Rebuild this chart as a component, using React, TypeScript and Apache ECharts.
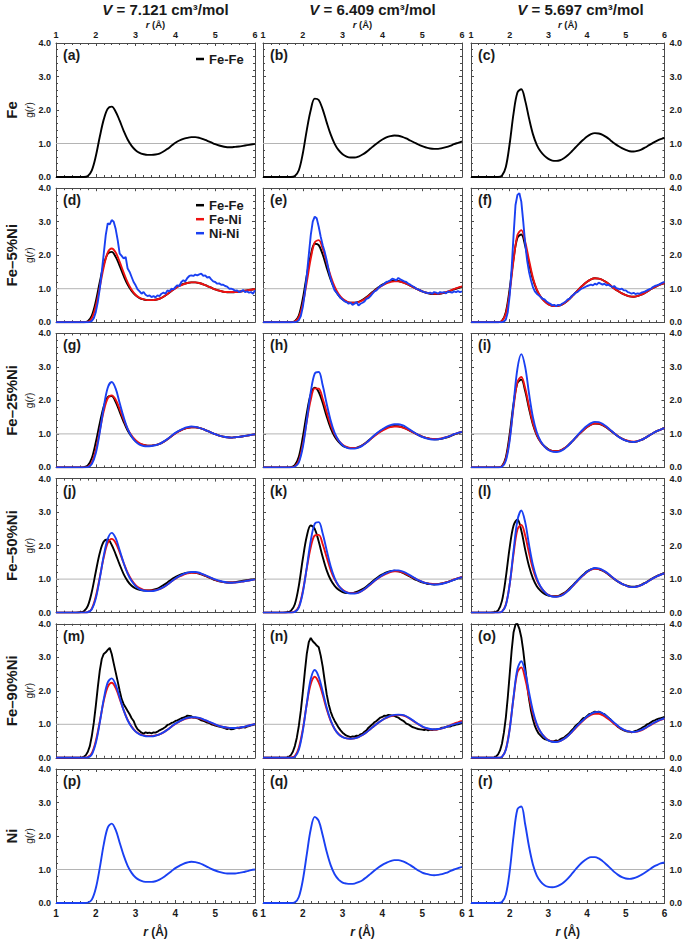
import React, { useEffect, useRef } from "react";
import * as echarts from "echarts";

const FONT = '"Liberation Sans", Arial, Helvetica, sans-serif';
const R_MIN = 1;
const R_MAX = 6;
const G_MIN = 0;
const G_MAX = 4;
const UNITY = 1;

const VOLUMES = ["7.121", "6.409", "5.697"];
const COMPOSITIONS = ["Fe", "Fe\u20135%Ni", "Fe\u201325%Ni", "Fe\u201350%Ni", "Fe\u201390%Ni", "Ni"];
const LETTERS = ["a", "b", "c", "d", "e", "f", "g", "h", "i", "j", "k", "l", "m", "n", "o", "p", "q", "r"];
const PAIR_COLORS: Record<string, string> = { "Fe-Fe": "#000000", "Fe-Ni": "#ee1111", "Ni-Ni": "#1a40f2" };

// ---------- g(r) values, r = 1.0 ... 6.0 (step 0.1 for 51 values, 0.05 for 101 values) ----------
// Pure Fe
const FeFe_a = [
  0, 0, 0, 0, 0, 0, 0, 0, 0.03, 0.2,
  0.62, 1.2, 1.72, 2.04, 2.1, 1.95, 1.68, 1.38, 1.12, 0.93,
  0.8, 0.72, 0.68, 0.66, 0.66, 0.67, 0.7, 0.76, 0.84, 0.93,
  1.02, 1.09, 1.14, 1.17, 1.19, 1.19, 1.17, 1.13, 1.08, 1.03,
  0.98, 0.94, 0.91, 0.89, 0.89, 0.9, 0.91, 0.93, 0.95, 0.97,
  0.99,
];
const FeFe_b = [
  0, 0, 0, 0, 0, 0, 0, 0, 0.03, 0.2,
  0.7, 1.4, 2.0, 2.34, 2.3, 2.02, 1.63, 1.27, 0.99, 0.8,
  0.68, 0.61, 0.58, 0.58, 0.61, 0.67, 0.75, 0.85, 0.95, 1.04,
  1.12, 1.18, 1.22, 1.24, 1.23, 1.2, 1.15, 1.09, 1.03, 0.97,
  0.92, 0.88, 0.85, 0.84, 0.84, 0.86, 0.89, 0.93, 0.98, 1.02,
  1.06,
];
const FeFe_c = [
  0, 0, 0, 0, 0, 0, 0, 0, 0.04, 0.3,
  1.0, 1.9, 2.52, 2.62, 2.28, 1.75, 1.28, 0.96, 0.76, 0.63,
  0.54, 0.49, 0.48, 0.5, 0.56, 0.65, 0.76, 0.88, 1.0, 1.11,
  1.21, 1.28, 1.31, 1.3, 1.26, 1.19, 1.1, 1.01, 0.93, 0.86,
  0.81, 0.77, 0.76, 0.78, 0.82, 0.88, 0.95, 1.02, 1.08, 1.13,
  1.17,
];

// Fe-5%Ni
const FeFe_d = FeFe_a;
const FeNi_d = [
  0, 0, 0, 0, 0, 0, 0, 0, 0.01, 0.12,
  0.48, 1.05, 1.65, 2.08, 2.2, 2.08, 1.8, 1.48, 1.19, 0.97,
  0.82, 0.73, 0.68, 0.66, 0.66, 0.67, 0.7, 0.76, 0.84, 0.93,
  1.01, 1.08, 1.13, 1.17, 1.19, 1.19, 1.17, 1.13, 1.08, 1.03,
  0.98, 0.94, 0.91, 0.9, 0.9, 0.9, 0.91, 0.93, 0.95, 0.97,
  0.99,
];
const NiNi_d = [
  0, 0, 0, 0, 0, 0, 0, 0, 0, 0, 0, 0, 0, 0, 0, 0, 0, 0.01, 0.04, 0.12,
  0.3, 0.6, 1.0, 1.5, 2.05, 2.6, 2.95, 2.92, 3.05, 3.0, 2.78, 2.45, 2.05, 1.98, 1.9, 1.95, 1.6, 1.5, 1.35, 1.2,
  1.1, 0.98, 0.92, 0.85, 0.9, 0.82, 0.78, 0.8, 0.75, 0.78, 0.74, 0.8, 0.78, 0.85, 0.88, 0.85, 0.95, 0.92, 1.0, 0.98,
  1.05, 1.1, 1.08, 1.2, 1.25, 1.22, 1.32, 1.38, 1.4, 1.38, 1.42, 1.4, 1.43, 1.45, 1.38, 1.4, 1.33, 1.35, 1.28, 1.22,
  1.2, 1.15, 1.16, 1.12, 1.12, 1.08, 1.06, 1.0, 1.0, 0.98, 0.94, 0.95, 0.9, 0.92, 0.96, 0.9, 0.92, 0.88, 0.9, 0.85,
  0.95,
];
const FeFe_e = FeFe_b;
const FeNi_e = [
  0, 0, 0, 0, 0, 0, 0, 0, 0.02, 0.15,
  0.55, 1.2, 1.9, 2.38, 2.45, 2.2, 1.78, 1.38, 1.06, 0.84,
  0.7, 0.62, 0.58, 0.58, 0.6, 0.65, 0.73, 0.83, 0.93, 1.02,
  1.1, 1.16, 1.2, 1.22, 1.22, 1.19, 1.15, 1.09, 1.03, 0.97,
  0.92, 0.88, 0.86, 0.85, 0.85, 0.87, 0.9, 0.94, 0.99, 1.03,
  1.07,
];
const NiNi_e = [
  0, 0, 0, 0, 0, 0, 0, 0, 0, 0, 0, 0, 0, 0, 0, 0, 0, 0.02, 0.06, 0.18,
  0.45, 0.85, 1.4, 2.0, 2.6, 3.0, 3.15, 3.1, 2.85, 2.55, 2.3, 2.1, 1.85, 1.55, 1.3, 1.12, 0.95, 0.88, 0.8, 0.72,
  0.68, 0.62, 0.6, 0.55, 0.58, 0.52, 0.55, 0.6, 0.5, 0.55, 0.58, 0.62, 0.7, 0.72, 0.78, 0.85, 0.92, 0.95, 1.02, 1.08,
  1.1, 1.15, 1.2, 1.22, 1.25, 1.3, 1.28, 1.25, 1.32, 1.28, 1.25, 1.22, 1.2, 1.15, 1.12, 1.08, 1.05, 1.0, 0.98, 0.95,
  0.92, 0.9, 0.88, 0.86, 0.88, 0.85, 0.9, 0.88, 0.85, 0.9, 0.88, 0.9, 0.86, 0.92, 0.9, 0.88, 0.92, 0.9, 0.93, 0.9,
  0.92,
];
const FeFe_f = FeFe_c;
const FeNi_f = [
  0, 0, 0, 0, 0, 0, 0, 0, 0.03, 0.25,
  0.9, 1.85, 2.6, 2.75, 2.4, 1.85, 1.33, 0.98, 0.76, 0.62,
  0.53, 0.49, 0.48, 0.5, 0.56, 0.65, 0.76, 0.88, 1.0, 1.11,
  1.21, 1.28, 1.31, 1.3, 1.26, 1.19, 1.1, 1.01, 0.93, 0.86,
  0.81, 0.77, 0.76, 0.78, 0.82, 0.88, 0.95, 1.02, 1.08, 1.13,
  1.17,
];
const NiNi_f = [
  0, 0, 0, 0, 0, 0, 0, 0, 0, 0, 0, 0, 0, 0, 0, 0, 0, 0.02, 0.08, 0.3,
  0.8, 1.6, 2.6, 3.5, 3.8, 3.85, 3.6, 3.0, 2.35, 1.85, 1.5, 1.25, 1.05, 0.92, 0.85, 0.8, 0.75, 0.7, 0.68, 0.62,
  0.58, 0.55, 0.5, 0.52, 0.48, 0.52, 0.5, 0.55, 0.58, 0.62, 0.68, 0.7, 0.78, 0.82, 0.88, 0.9, 0.95, 1.0, 1.02, 1.05,
  1.08, 1.1, 1.12, 1.1, 1.15, 1.12, 1.18, 1.15, 1.12, 1.15, 1.1, 1.12, 1.08, 1.05, 1.08, 1.02, 1.0, 0.98, 1.0, 0.95,
  0.95, 0.9, 0.88, 0.85, 0.88, 0.84, 0.86, 0.85, 0.88, 0.9, 0.92, 0.95, 0.98, 1.0, 1.05, 1.08, 1.1, 1.12, 1.15, 1.18,
  1.2,
];

// Fe-25%Ni
const FeFe_g = [
  0, 0, 0, 0, 0, 0, 0, 0.01, 0.06, 0.28,
  0.75, 1.32, 1.82, 2.1, 2.13, 1.95, 1.66, 1.36, 1.1, 0.92,
  0.79, 0.71, 0.67, 0.65, 0.65, 0.67, 0.7, 0.76, 0.84, 0.93,
  1.02, 1.09, 1.14, 1.18, 1.2, 1.2, 1.18, 1.14, 1.09, 1.04,
  0.99, 0.95, 0.92, 0.9, 0.89, 0.9, 0.91, 0.93, 0.95, 0.97,
  0.99,
];
const FeNi_g = [
  0, 0, 0, 0, 0, 0, 0, 0, 0.02, 0.15,
  0.52, 1.1, 1.68, 2.06, 2.15, 2.02, 1.74, 1.43, 1.15, 0.95,
  0.81, 0.72, 0.67, 0.65, 0.65, 0.67, 0.7, 0.76, 0.84, 0.93,
  1.01, 1.08, 1.14, 1.18, 1.2, 1.2, 1.18, 1.14, 1.09, 1.04,
  0.99, 0.95, 0.92, 0.9, 0.89, 0.9, 0.91, 0.93, 0.95, 0.97,
  0.99,
];
const NiNi_g = [
  0, 0, 0, 0, 0, 0, 0, 0, 0.01, 0.1,
  0.42, 1.05, 1.8, 2.38, 2.55, 2.35, 1.92, 1.5, 1.15, 0.92,
  0.77, 0.68, 0.64, 0.63, 0.64, 0.66, 0.7, 0.77, 0.85, 0.94,
  1.03, 1.1, 1.16, 1.2, 1.22, 1.21, 1.18, 1.14, 1.09, 1.04,
  0.99, 0.95, 0.92, 0.9, 0.89, 0.9, 0.91, 0.93, 0.95, 0.97,
  0.99,
];
const FeFe_h = [
  0, 0, 0, 0, 0, 0, 0, 0.01, 0.07, 0.32,
  0.9, 1.62, 2.18, 2.38, 2.25, 1.92, 1.52, 1.17, 0.92, 0.76,
  0.65, 0.6, 0.58, 0.58, 0.61, 0.67, 0.75, 0.85, 0.95, 1.04,
  1.12, 1.18, 1.22, 1.24, 1.23, 1.2, 1.15, 1.09, 1.03, 0.97,
  0.92, 0.88, 0.85, 0.84, 0.84, 0.86, 0.89, 0.93, 0.98, 1.02,
  1.06,
];
const FeNi_h = [
  0, 0, 0, 0, 0, 0, 0, 0, 0.03, 0.2,
  0.68, 1.38, 2.02, 2.36, 2.35, 2.05, 1.65, 1.27, 0.99, 0.8,
  0.68, 0.61, 0.58, 0.58, 0.6, 0.66, 0.74, 0.84, 0.94, 1.03,
  1.1, 1.16, 1.2, 1.22, 1.22, 1.19, 1.15, 1.09, 1.03, 0.97,
  0.92, 0.88, 0.86, 0.85, 0.85, 0.87, 0.9, 0.94, 0.99, 1.03,
  1.07,
];
const NiNi_h = [
  0, 0, 0, 0, 0, 0, 0, 0, 0.02, 0.15,
  0.6, 1.4, 2.25, 2.8, 2.85, 2.45, 1.9, 1.4, 1.03, 0.8,
  0.66, 0.59, 0.56, 0.56, 0.59, 0.65, 0.74, 0.85, 0.96, 1.06,
  1.14, 1.21, 1.26, 1.29, 1.29, 1.26, 1.2, 1.12, 1.04, 0.97,
  0.91, 0.87, 0.84, 0.83, 0.84, 0.86, 0.9, 0.94, 0.99, 1.03,
  1.06,
];
const FeFe_i = FeFe_c;
const FeNi_i = [
  0, 0, 0, 0, 0, 0, 0, 0, 0.03, 0.25,
  0.88, 1.8, 2.55, 2.7, 2.36, 1.82, 1.32, 0.98, 0.76, 0.62,
  0.53, 0.49, 0.48, 0.5, 0.56, 0.65, 0.76, 0.88, 1.0, 1.11,
  1.21, 1.28, 1.31, 1.31, 1.27, 1.2, 1.11, 1.02, 0.93, 0.86,
  0.81, 0.78, 0.77, 0.78, 0.82, 0.88, 0.95, 1.02, 1.08, 1.13,
  1.17,
];
const NiNi_i = [
  0, 0, 0, 0, 0, 0, 0, 0, 0.02, 0.2,
  0.8, 1.9, 2.95, 3.38, 3.0, 2.2, 1.5, 1.05, 0.78, 0.62,
  0.52, 0.47, 0.46, 0.48, 0.54, 0.64, 0.76, 0.89, 1.02, 1.14,
  1.24, 1.32, 1.36, 1.35, 1.3, 1.22, 1.12, 1.02, 0.92, 0.85,
  0.8, 0.77, 0.76, 0.78, 0.82, 0.88, 0.95, 1.02, 1.08, 1.13,
  1.17,
];

// Fe-50%Ni
const FeFe_j = [
  0, 0, 0, 0, 0, 0, 0.01, 0.04, 0.2, 0.62,
  1.22, 1.78, 2.12, 2.18, 2.02, 1.74, 1.43, 1.15, 0.94, 0.8,
  0.72, 0.68, 0.66, 0.66, 0.67, 0.7, 0.75, 0.82, 0.9, 0.99,
  1.06, 1.12, 1.16, 1.19, 1.2, 1.19, 1.16, 1.12, 1.07, 1.02,
  0.97, 0.93, 0.91, 0.9, 0.9, 0.91, 0.93, 0.95, 0.97, 0.99,
  1.0,
];
const FeNi_j = FeNi_d;
const NiNi_j = [
  0, 0, 0, 0, 0, 0, 0, 0, 0.01, 0.1,
  0.42, 1.02, 1.7, 2.2, 2.38, 2.22, 1.86, 1.48, 1.16, 0.94,
  0.79, 0.7, 0.66, 0.64, 0.64, 0.66, 0.7, 0.76, 0.84, 0.93,
  1.02, 1.09, 1.15, 1.19, 1.21, 1.21, 1.19, 1.14, 1.09, 1.04,
  0.99, 0.95, 0.92, 0.9, 0.89, 0.9, 0.91, 0.93, 0.95, 0.97,
  0.99,
];
const FeFe_k = [
  0, 0, 0, 0, 0, 0, 0.01, 0.05, 0.25, 0.8,
  1.6, 2.28, 2.6, 2.5, 2.12, 1.66, 1.26, 0.98, 0.8, 0.68,
  0.61, 0.58, 0.58, 0.6, 0.64, 0.7, 0.78, 0.88, 0.98, 1.07,
  1.14, 1.2, 1.24, 1.25, 1.23, 1.19, 1.13, 1.07, 1.0, 0.95,
  0.9, 0.87, 0.85, 0.84, 0.85, 0.87, 0.9, 0.94, 0.98, 1.02,
  1.05,
];
const FeNi_k = [
  0, 0, 0, 0, 0, 0, 0, 0, 0.03, 0.18,
  0.64, 1.32, 1.95, 2.3, 2.32, 2.04, 1.65, 1.27, 0.99, 0.8,
  0.68, 0.61, 0.58, 0.58, 0.6, 0.66, 0.74, 0.84, 0.94, 1.03,
  1.1, 1.16, 1.21, 1.23, 1.23, 1.2, 1.15, 1.09, 1.03, 0.97,
  0.92, 0.88, 0.86, 0.85, 0.85, 0.87, 0.9, 0.94, 0.99, 1.03,
  1.07,
];
const NiNi_k = [
  0, 0, 0, 0, 0, 0, 0, 0, 0.02, 0.15,
  0.6, 1.35, 2.15, 2.65, 2.7, 2.36, 1.86, 1.38, 1.03, 0.8,
  0.67, 0.6, 0.57, 0.57, 0.6, 0.66, 0.75, 0.85, 0.95, 1.04,
  1.12, 1.18, 1.23, 1.26, 1.26, 1.23, 1.18, 1.11, 1.04, 0.97,
  0.92, 0.88, 0.85, 0.84, 0.84, 0.86, 0.89, 0.93, 0.98, 1.02,
  1.06,
];
const FeFe_l = [
  0, 0, 0, 0, 0, 0, 0.01, 0.06, 0.35, 1.05,
  1.95, 2.6, 2.78, 2.45, 1.88, 1.38, 1.02, 0.79, 0.65, 0.56,
  0.51, 0.49, 0.49, 0.52, 0.58, 0.67, 0.78, 0.9, 1.02, 1.13,
  1.23, 1.29, 1.32, 1.3, 1.25, 1.18, 1.09, 1.0, 0.92, 0.86,
  0.81, 0.78, 0.77, 0.79, 0.83, 0.89, 0.96, 1.03, 1.09, 1.14,
  1.17,
];
const FeNi_l = [
  0, 0, 0, 0, 0, 0, 0, 0, 0.03, 0.24,
  0.85, 1.75, 2.48, 2.62, 2.3, 1.78, 1.3, 0.97, 0.76, 0.62,
  0.53, 0.49, 0.48, 0.5, 0.56, 0.65, 0.76, 0.88, 1.0, 1.11,
  1.21, 1.28, 1.31, 1.3, 1.26, 1.19, 1.1, 1.01, 0.93, 0.86,
  0.81, 0.77, 0.76, 0.78, 0.82, 0.88, 0.95, 1.02, 1.08, 1.13,
  1.17,
];
const NiNi_l = [
  0, 0, 0, 0, 0, 0, 0, 0, 0.03, 0.22,
  0.85, 1.85, 2.75, 3.05, 2.7, 2.02, 1.42, 1.02, 0.77, 0.62,
  0.52, 0.48, 0.47, 0.49, 0.55, 0.64, 0.76, 0.89, 1.01, 1.12,
  1.22, 1.29, 1.33, 1.32, 1.27, 1.2, 1.11, 1.01, 0.93, 0.86,
  0.81, 0.77, 0.76, 0.78, 0.82, 0.88, 0.95, 1.02, 1.08, 1.13,
  1.17,
];

// Fe-90%Ni
const FeFe_m = [
  0, 0, 0, 0, 0, 0, 0, 0, 0, 0, 0, 0, 0, 0.01, 0.03, 0.08, 0.18, 0.35, 0.65, 1.05,
  1.55, 2.1, 2.6, 2.95, 3.1, 3.15, 3.22, 3.28, 3.1, 2.82, 2.55, 2.28, 2.0, 1.75, 1.6, 1.5, 1.4, 1.3, 1.18, 1.1,
  0.95, 0.85, 0.8, 0.75, 0.72, 0.76, 0.74, 0.75, 0.73, 0.76, 0.75, 0.78, 0.82, 0.85, 0.88, 0.92, 0.98, 1.0, 1.04, 1.06,
  1.1, 1.12, 1.15, 1.18, 1.2, 1.22, 1.26, 1.25, 1.24, 1.2, 1.2, 1.18, 1.15, 1.12, 1.1, 1.08, 1.05, 1.04, 1.0, 0.98,
  0.96, 0.95, 0.93, 0.92, 0.9, 0.88, 0.86, 0.88, 0.85, 0.86, 0.88, 0.9, 0.88, 0.9, 0.92, 0.9, 0.93, 0.95, 0.97, 0.98,
  1.0,
];
const FeNi_m = [
  0, 0, 0, 0, 0, 0, 0, 0, 0.02, 0.14,
  0.5, 1.08, 1.7, 2.12, 2.24, 2.08, 1.76, 1.42, 1.13, 0.93,
  0.79, 0.71, 0.67, 0.65, 0.65, 0.67, 0.7, 0.76, 0.84, 0.93,
  1.01, 1.08, 1.14, 1.18, 1.2, 1.2, 1.18, 1.14, 1.09, 1.04,
  0.99, 0.95, 0.92, 0.9, 0.89, 0.89, 0.9, 0.92, 0.95, 0.98,
  1.01,
];
const NiNi_m = [
  0, 0, 0, 0, 0, 0, 0, 0, 0.01, 0.1,
  0.44, 1.05, 1.75, 2.25, 2.37, 2.18, 1.8, 1.42, 1.12, 0.92,
  0.78, 0.7, 0.66, 0.64, 0.64, 0.66, 0.7, 0.76, 0.84, 0.93,
  1.02, 1.09, 1.15, 1.19, 1.21, 1.21, 1.19, 1.15, 1.1, 1.05,
  1.0, 0.95, 0.92, 0.9, 0.89, 0.89, 0.9, 0.92, 0.95, 0.98,
  1.01,
];
const FeFe_n = [
  0, 0, 0, 0, 0, 0, 0, 0, 0, 0, 0, 0, 0.01, 0.03, 0.08, 0.18, 0.35, 0.6, 0.95, 1.4,
  1.95, 2.55, 3.1, 3.45, 3.58, 3.48, 3.42, 3.35, 3.3, 3.05, 2.72, 2.3, 1.9, 1.6, 1.38, 1.22, 1.1, 1.0, 0.9, 0.82,
  0.75, 0.7, 0.66, 0.64, 0.62, 0.64, 0.63, 0.66, 0.65, 0.7, 0.72, 0.78, 0.82, 0.9, 0.95, 1.0, 1.06, 1.1, 1.15, 1.2,
  1.22, 1.26, 1.25, 1.28, 1.27, 1.26, 1.25, 1.22, 1.2, 1.15, 1.12, 1.08, 1.02, 1.0, 0.96, 0.92, 0.9, 0.88, 0.86, 0.85,
  0.84, 0.83, 0.85, 0.82, 0.84, 0.83, 0.85, 0.84, 0.86, 0.87, 0.9, 0.9, 0.92, 0.94, 0.93, 0.96, 0.97, 0.99, 1.0, 1.02,
  1.04,
];
const FeNi_n = [
  0, 0, 0, 0, 0, 0, 0, 0.01, 0.05, 0.3,
  0.85, 1.6, 2.2, 2.42, 2.25, 1.88, 1.45, 1.1, 0.86, 0.71,
  0.62, 0.58, 0.57, 0.58, 0.62, 0.68, 0.76, 0.86, 0.96, 1.05,
  1.13, 1.19, 1.24, 1.27, 1.28, 1.27, 1.23, 1.16, 1.08, 1.0,
  0.93, 0.88, 0.85, 0.84, 0.85, 0.88, 0.92, 0.97, 1.02, 1.06,
  1.1,
];
const NiNi_n = [
  0, 0, 0, 0, 0, 0, 0, 0, 0.03, 0.24,
  0.8, 1.62, 2.35, 2.62, 2.42, 1.98, 1.5, 1.12, 0.86, 0.7,
  0.62, 0.58, 0.57, 0.58, 0.62, 0.68, 0.76, 0.86, 0.96, 1.05,
  1.13, 1.2, 1.25, 1.28, 1.29, 1.28, 1.24, 1.17, 1.09, 1.01,
  0.94, 0.89, 0.86, 0.85, 0.86, 0.88, 0.92, 0.96, 1.0, 1.03,
  1.06,
];
const FeFe_o = [
  0, 0, 0, 0, 0, 0, 0, 0, 0, 0, 0, 0, 0.01, 0.04, 0.1, 0.22, 0.42, 0.75, 1.2, 1.8,
  2.5, 3.2, 3.75, 3.98, 4.0, 3.85, 3.6, 3.2, 2.7, 2.2, 1.75, 1.4, 1.15, 0.95, 0.82, 0.72, 0.66, 0.6, 0.56, 0.54,
  0.52, 0.5, 0.48, 0.5, 0.52, 0.5, 0.55, 0.58, 0.6, 0.65, 0.7, 0.75, 0.82, 0.88, 0.95, 1.0, 1.05, 1.12, 1.18, 1.2,
  1.25, 1.3, 1.32, 1.35, 1.38, 1.36, 1.38, 1.35, 1.32, 1.3, 1.25, 1.2, 1.15, 1.08, 1.02, 0.98, 0.92, 0.88, 0.85, 0.82,
  0.8, 0.78, 0.78, 0.76, 0.78, 0.8, 0.82, 0.85, 0.88, 0.92, 0.95, 1.0, 1.02, 1.06, 1.1, 1.12, 1.15, 1.17, 1.18, 1.2,
  1.22,
];
const FeNi_o = FeNi_i;
const NiNi_o = [
  0, 0, 0, 0, 0, 0, 0, 0, 0.03, 0.24,
  0.85, 1.82, 2.65, 2.88, 2.56, 1.95, 1.4, 1.01, 0.77, 0.62,
  0.52, 0.48, 0.47, 0.5, 0.56, 0.65, 0.77, 0.9, 1.02, 1.13,
  1.23, 1.31, 1.36, 1.37, 1.33, 1.25, 1.15, 1.05, 0.95, 0.87,
  0.81, 0.78, 0.77, 0.79, 0.83, 0.89, 0.96, 1.03, 1.09, 1.14,
  1.18,
];

// Pure Ni
const NiNi_p = [
  0, 0, 0, 0, 0, 0, 0, 0, 0.01, 0.1,
  0.44, 1.05, 1.75, 2.25, 2.37, 2.18, 1.8, 1.42, 1.11, 0.9,
  0.76, 0.68, 0.64, 0.63, 0.63, 0.65, 0.7, 0.77, 0.86, 0.95,
  1.04, 1.11, 1.17, 1.21, 1.23, 1.22, 1.19, 1.14, 1.08, 1.02,
  0.97, 0.93, 0.9, 0.88, 0.88, 0.88, 0.9, 0.92, 0.95, 0.98,
  1.0,
];
const NiNi_q = [
  0, 0, 0, 0, 0, 0, 0, 0, 0.02, 0.18,
  0.68, 1.45, 2.2, 2.57, 2.45, 2.02, 1.53, 1.13, 0.86, 0.7,
  0.61, 0.58, 0.57, 0.58, 0.62, 0.68, 0.77, 0.87, 0.97, 1.06,
  1.14, 1.2, 1.25, 1.28, 1.28, 1.25, 1.2, 1.13, 1.05, 0.97,
  0.91, 0.87, 0.84, 0.83, 0.84, 0.86, 0.9, 0.95, 1.0, 1.04,
  1.08,
];
const NiNi_r = [
  0, 0, 0, 0, 0, 0, 0, 0, 0.03, 0.25,
  0.95, 2.0, 2.8, 2.88, 2.35, 1.68, 1.15, 0.82, 0.64, 0.53,
  0.48, 0.47, 0.49, 0.54, 0.62, 0.73, 0.86, 1.0, 1.13, 1.24,
  1.32, 1.37, 1.37, 1.33, 1.25, 1.15, 1.04, 0.93, 0.84, 0.77,
  0.73, 0.72, 0.74, 0.78, 0.84, 0.91, 0.99, 1.07, 1.13, 1.18,
  1.21,
];

// panel table: [pair name, values]
const PANELS: [string, number[]][][] = [
  [["Fe-Fe", FeFe_a]],
  [["Fe-Fe", FeFe_b]],
  [["Fe-Fe", FeFe_c]],
  [["Fe-Fe", FeFe_d], ["Fe-Ni", FeNi_d], ["Ni-Ni", NiNi_d]],
  [["Fe-Fe", FeFe_e], ["Fe-Ni", FeNi_e], ["Ni-Ni", NiNi_e]],
  [["Fe-Fe", FeFe_f], ["Fe-Ni", FeNi_f], ["Ni-Ni", NiNi_f]],
  [["Fe-Fe", FeFe_g], ["Fe-Ni", FeNi_g], ["Ni-Ni", NiNi_g]],
  [["Fe-Fe", FeFe_h], ["Fe-Ni", FeNi_h], ["Ni-Ni", NiNi_h]],
  [["Fe-Fe", FeFe_i], ["Fe-Ni", FeNi_i], ["Ni-Ni", NiNi_i]],
  [["Fe-Fe", FeFe_j], ["Fe-Ni", FeNi_j], ["Ni-Ni", NiNi_j]],
  [["Fe-Fe", FeFe_k], ["Fe-Ni", FeNi_k], ["Ni-Ni", NiNi_k]],
  [["Fe-Fe", FeFe_l], ["Fe-Ni", FeNi_l], ["Ni-Ni", NiNi_l]],
  [["Fe-Fe", FeFe_m], ["Fe-Ni", FeNi_m], ["Ni-Ni", NiNi_m]],
  [["Fe-Fe", FeFe_n], ["Fe-Ni", FeNi_n], ["Ni-Ni", NiNi_n]],
  [["Fe-Fe", FeFe_o], ["Fe-Ni", FeNi_o], ["Ni-Ni", NiNi_o]],
  [["Ni-Ni", NiNi_p]],
  [["Ni-Ni", NiNi_q]],
  [["Ni-Ni", NiNi_r]],
];

// ---------- layout ----------
const COL_LEFT = [56, 263, 471];
const PANEL_W = 199;
const ROW_TOP0 = 43;
const ROW_PITCH = 145.2;
const PANEL_H = 134;
const AXIS_COLOR = "#4a4a4a";
const TEXT_COLOR = "#1a1a1a";

function toPairs(vals: number[]): number[][] {
  const step = (R_MAX - R_MIN) / (vals.length - 1);
  return vals.map((v, k) => [R_MIN + k * step, v]);
}

function buildOption() {
  const grid: any[] = [];
  const xAxis: any[] = [];
  const yAxis: any[] = [];
  const series: any[] = [];
  const graphic: any[] = [];

  const tickStyle = { color: AXIS_COLOR, width: 1 };
  const labelBase = { fontFamily: FONT, fontWeight: "bold", color: TEXT_COLOR };

  for (let r = 0; r < 6; r++) {
    const top = ROW_TOP0 + r * ROW_PITCH;
    for (let c = 0; c < 3; c++) {
      const i = r * 3 + c;
      const left = COL_LEFT[c];
      grid.push({ left, top, width: PANEL_W, height: PANEL_H, containLabel: false });

      const xCommon = (pos: string, showLab: boolean) => ({
        type: "value",
        gridIndex: i,
        position: pos,
        min: R_MIN,
        max: R_MAX,
        interval: 1,
        axisLine: { show: true, onZero: false, lineStyle: { color: AXIS_COLOR, width: 1 } },
        axisTick: { show: true, inside: true, length: 3, lineStyle: tickStyle },
        minorTick: { show: true, splitNumber: 5, length: 2, lineStyle: tickStyle },
        splitLine: { show: false },
        minorSplitLine: { show: false },
        axisLabel: {
          show: showLab,
          ...labelBase,
          fontSize: pos === "top" ? 9 : 10,
          margin: pos === "top" ? 4 : 5,
          showMinLabel: true,
          showMaxLabel: true,
        },
      });
      const xb: any = xCommon("bottom", r === 5);
      if (r === 5) {
        xb.name = "{i|r} (\u00c5)";
        xb.nameLocation = "middle";
        xb.nameGap = 23;
        xb.nameTextStyle = {
          ...labelBase,
          fontSize: 12,
          rich: { i: { ...labelBase, fontSize: 12, fontStyle: "italic" } },
        };
      }
      const xt: any = xCommon("top", r === 0);
      if (r === 0) {
        xt.name = "{i|r} (\u00c5)";
        xt.nameLocation = "middle";
        xt.nameGap = 13;
        xt.nameTextStyle = {
          ...labelBase,
          fontSize: 9.5,
          rich: { i: { ...labelBase, fontSize: 9.5, fontStyle: "italic" } },
        };
      }
      xAxis.push(xb, xt);

      const yCommon = (pos: string, showLab: boolean) => ({
        type: "value",
        gridIndex: i,
        position: pos,
        min: G_MIN,
        max: G_MAX,
        interval: 1,
        axisLine: { show: true, onZero: false, lineStyle: { color: AXIS_COLOR, width: 1 } },
        axisTick: { show: true, inside: true, length: 3, lineStyle: tickStyle },
        minorTick: { show: true, splitNumber: 5, length: 2, lineStyle: tickStyle },
        splitLine: { show: false },
        minorSplitLine: { show: false },
        axisLabel: {
          show: showLab,
          ...labelBase,
          fontSize: 9,
          margin: 5,
          showMinLabel: true,
          showMaxLabel: true,
          formatter: (v: number) => v.toFixed(1),
        },
      });
      const yl: any = yCommon("left", c === 0);
      if (c === 0) {
        yl.name = "g({i|r})";
        yl.nameLocation = "middle";
        yl.nameRotate = 90;
        yl.nameGap = 21;
        yl.nameTextStyle = {
          fontFamily: FONT,
          color: TEXT_COLOR,
          fontSize: 10,
          rich: { i: { fontFamily: FONT, color: TEXT_COLOR, fontSize: 10, fontStyle: "italic" } },
        };
      }
      const yr: any = yCommon("right", c === 2);
      yAxis.push(yl, yr);

      // reference level g(r) = 1
      series.push({
        type: "line",
        name: "unity",
        xAxisIndex: 2 * i,
        yAxisIndex: 2 * i,
        data: [[R_MIN, UNITY], [R_MAX, UNITY]],
        symbol: "none",
        silent: true,
        lineStyle: { color: "#b4b4b4", width: 1 },
        z: 1,
      });
      for (const [pair, vals] of PANELS[i]) {
        const noisy = vals.length > 60;
        const col = PAIR_COLORS[pair];
        series.push({
          type: "line",
          name: pair,
          xAxisIndex: 2 * i,
          yAxisIndex: 2 * i,
          data: toPairs(vals),
          symbol: "none",
          showSymbol: false,
          smooth: noisy ? false : 0.35,
          color: col,
          itemStyle: { color: col },
          lineStyle: { color: col, width: 1.9 },
          clip: true,
          z: 3,
        });
      }

      graphic.push({
        type: "text",
        x: left + 7,
        y: top + 5,
        silent: true,
        style: {
          text: `(${LETTERS[i]})`,
          fontFamily: FONT,
          fontWeight: "bold",
          fontSize: 14,
          fill: TEXT_COLOR,
          textAlign: "left",
          textVerticalAlign: "top",
        },
      });
    }
    graphic.push({
      type: "text",
      x: 11,
      y: top + PANEL_H / 2,
      rotation: Math.PI / 2,
      silent: true,
      style: {
        text: COMPOSITIONS[r],
        fontFamily: FONT,
        fontWeight: "bold",
        fontSize: 15,
        fill: TEXT_COLOR,
        textAlign: "center",
        textVerticalAlign: "middle",
      },
    });
  }

  for (let c = 0; c < 3; c++) {
    graphic.push({
      type: "text",
      x: COL_LEFT[c] + PANEL_W / 2 + 10,
      y: 9,
      silent: true,
      style: {
        text: `{v|V} = ${VOLUMES[c]} cm\u00b3/mol`,
        fontFamily: FONT,
        fontWeight: "bold",
        fontSize: 15,
        fill: TEXT_COLOR,
        textAlign: "center",
        textVerticalAlign: "middle",
        rich: { v: { fontFamily: FONT, fontWeight: "bold", fontSize: 15, fontStyle: "italic", fill: TEXT_COLOR } },
      },
    });
  }

  const legendBase = {
    orient: "vertical",
    icon: "rect",
    itemWidth: 8,
    itemHeight: 2.5,
    itemGap: 0,
    selectedMode: false,
    padding: 0,
    textStyle: {
      fontFamily: FONT,
      fontWeight: "bold",
      fontSize: 13,
      lineHeight: 14,
      color: TEXT_COLOR,
      padding: [0, 0, 0, 0],
    },
  };
  const legend = [
    { ...legendBase, data: ["Fe-Fe"], left: COL_LEFT[0] + 140, top: ROW_TOP0 + 9 },
    { ...legendBase, data: ["Fe-Fe", "Fe-Ni", "Ni-Ni"], left: COL_LEFT[0] + 140, top: ROW_TOP0 + ROW_PITCH + 10 },
  ];

  return {
    animation: false,
    backgroundColor: "#ffffff",
    grid,
    xAxis,
    yAxis,
    series,
    graphic,
    legend,
    tooltip: { show: false },
  };
}

export default function App() {
  const ref = useRef<HTMLDivElement>(null);
  useEffect(() => {
    document.body.style.margin = "0";
    const chart = echarts.init(ref.current!, null, { renderer: "svg" });
    chart.setOption(buildOption() as any);
    return () => chart.dispose();
  }, []);
  return <div ref={ref} style={{ width: 685, height: 941, background: "#fff" }} />;
}
